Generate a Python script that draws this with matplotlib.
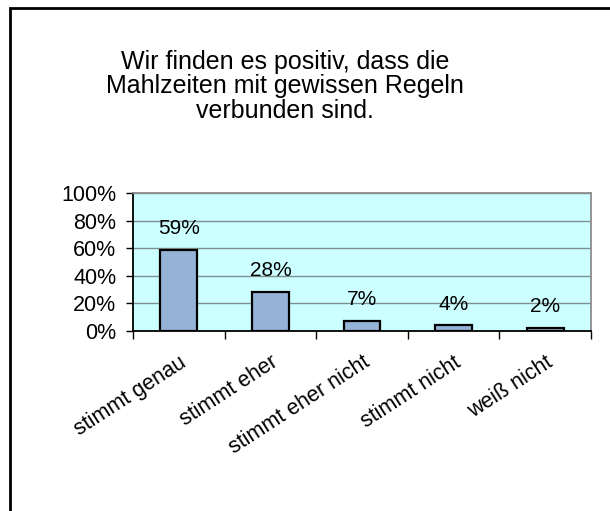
import matplotlib.pyplot as plt
from matplotlib.patches import Rectangle
from matplotlib.ticker import FixedLocator, FuncFormatter

categories = ["stimmt genau", "stimmt eher", "stimmt eher nicht", "stimmt nicht", "weiß nicht"]
values = [0.59, 0.28, 0.07, 0.04, 0.02]
labels = ["59%", "28%", "7%", "4%", "2%"]
title = "Wir finden es positiv, dass die\nMahlzeiten mit gewissen Regeln\nverbunden sind."

plt.rcParams['font.family'] = ['Liberation Sans', 'DejaVu Sans']

fig = plt.figure(figsize=(6.1, 5.11), dpi=100)
fig.patch.set_facecolor('white')

# outer frame of the chart object
fig.patches.append(Rectangle((10/610, -0.1), 1.2, 1 - 8/511 + 0.1, transform=fig.transFigure,
                             fill=False, edgecolor='black', linewidth=2.0))

fig.text(285/610, 1 - 50/511, title, ha='center', va='top', fontsize=18, linespacing=1.02)

ax = fig.add_axes([133/610, 1 - 331/511, 458/610, 138/511])
ax.set_facecolor('#CCFFFF')

x = range(len(categories))
bars = ax.bar(x, values, width=0.4, color='#95B3D7', edgecolor='black', linewidth=1.6, zorder=3)
for xi, v, lab in zip(x, values, labels):
    ax.annotate(lab, (xi, v), xytext=(0, 11.5), textcoords='offset points',
                ha='center', va='baseline', fontsize=15)

ax.set_xlim(-0.5, len(categories) - 0.5)
ax.set_ylim(0, 1)
ax.set_yticks([0, 0.2, 0.4, 0.6, 0.8, 1.0])
ax.yaxis.set_major_formatter(FuncFormatter(lambda v, p: f"{v*100:.0f}%"))
ax.yaxis.grid(True, color='#7f8f8f', linewidth=1.0, zorder=1)
ax.tick_params(axis='y', length=5, width=1, pad=7, labelsize=15.5, direction='out')

ax.set_xticks(list(x))
ax.set_xticklabels(categories, rotation=33, ha='right', rotation_mode='anchor', fontsize=15.5)
ax.tick_params(axis='x', which='major', length=0, pad=15)
ax.xaxis.set_minor_locator(FixedLocator([i - 0.5 for i in range(len(categories) + 1)]))
ax.tick_params(axis='x', which='minor', length=6, width=1, direction='out')

ax.spines['left'].set_color('black')
ax.spines['bottom'].set_color('black')
ax.spines['top'].set_color('#8c8c8c')
ax.spines['right'].set_color('#8c8c8c')
for s in ax.spines.values():
    s.set_linewidth(1.3)

fig.savefig('out.png', dpi=100)
